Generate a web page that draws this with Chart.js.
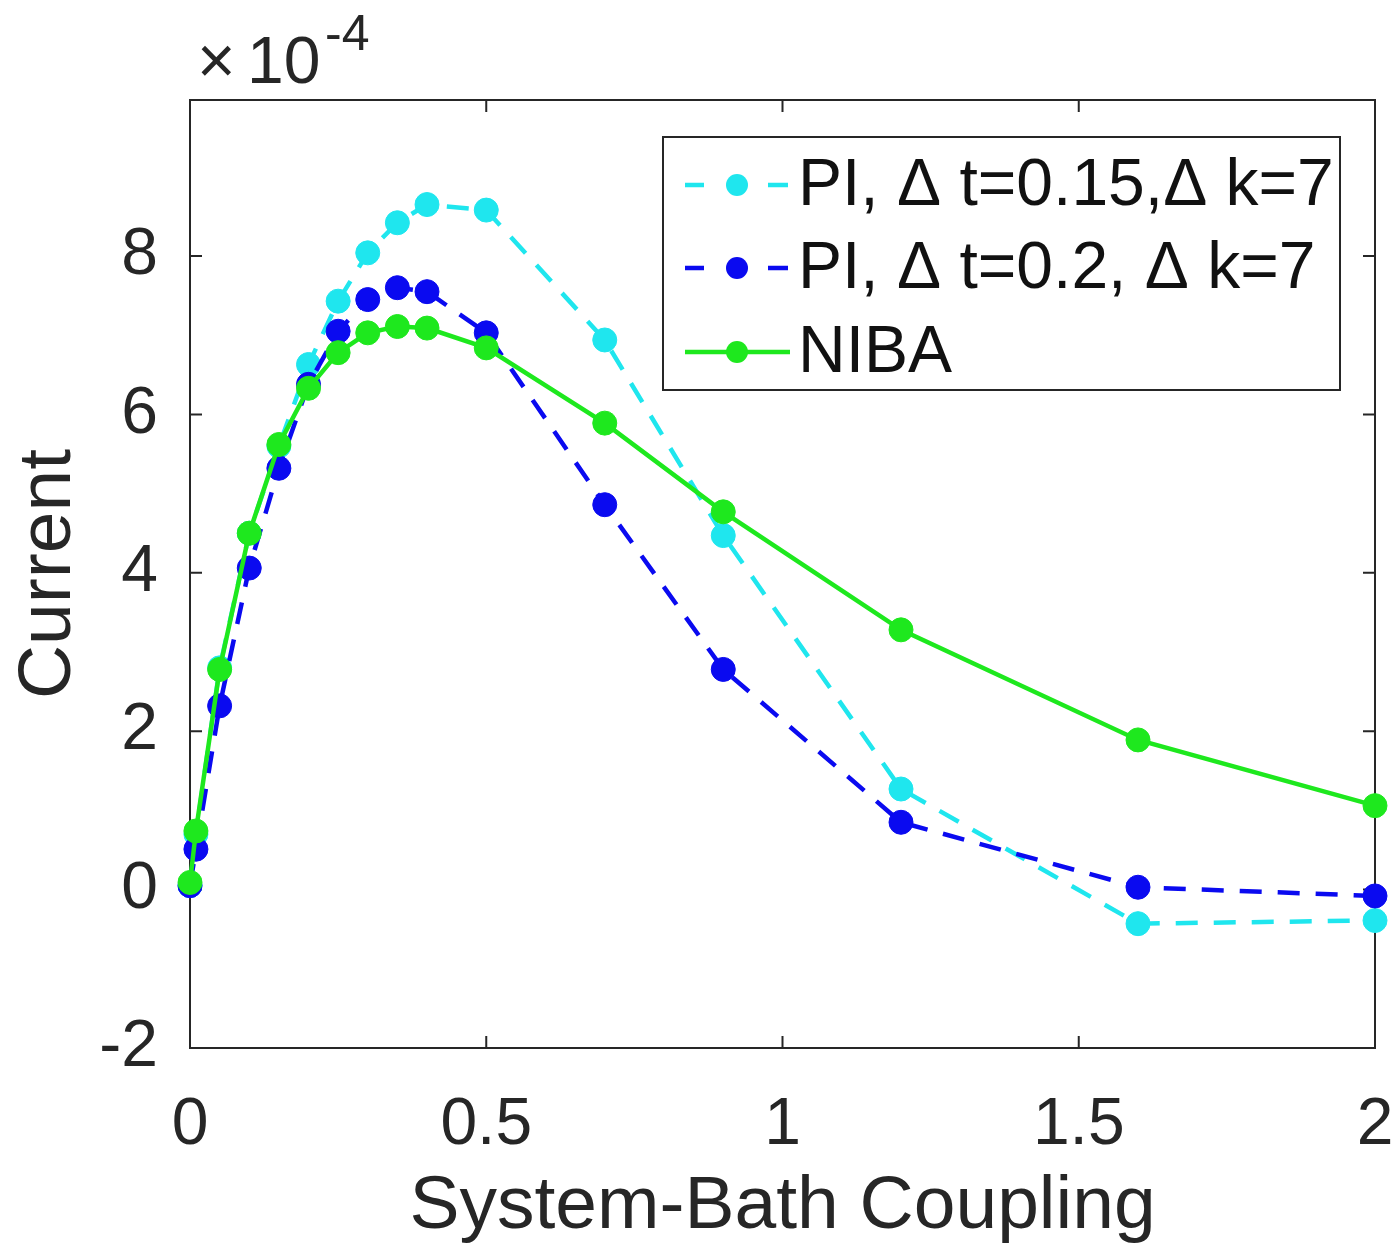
<!DOCTYPE html>
<html lang="en">
<head>
  <meta charset="UTF-8">
  <title>Current vs System-Bath Coupling</title>
  <script src="https://cdn.jsdelivr.net/npm/chart.js"></script>
  <style>
    html, body { margin: 0; padding: 0; background: #fff; }
    #wrap { width: 1392px; height: 1254px; }
  </style>
</head>
<body>
<div id="wrap"><canvas id="grafica" width="1392" height="1254"></canvas></div>

<script>
// coupling values (x), shared by the three curves
const coupling = [0, 0.01, 0.05, 0.1, 0.15, 0.2, 0.25, 0.3, 0.35, 0.4, 0.5, 0.7, 0.9, 1.2, 1.6, 2];
// current, in units of 1e-4
const piDt015 = [0.05, 0.70, 2.80, 4.50, 5.60, 6.63, 7.43, 8.04, 8.42, 8.65, 8.58, 6.94, 4.47, 1.27, -0.43, -0.39];
const piDt02  = [0.05, 0.51, 2.32, 4.06, 5.32, 6.38, 7.05, 7.45, 7.60, 7.55, 7.03, 4.86, 2.78, 0.85, 0.03, -0.08];
const niba    = [0.09, 0.74, 2.78, 4.50, 5.62, 6.33, 6.78, 7.03, 7.11, 7.09, 6.84, 5.89, 4.77, 3.28, 1.89, 1.06];

const seriesLabels = ["PI, \u0394 t=0.15,\u0394 k=7", "PI, \u0394 t=0.2, \u0394 k=7", "NIBA"];
const xTicks = [0, 0.5, 1, 1.5, 2];
const yTicks = [-2, 0, 2, 4, 6, 8];

const FONT = "'Liberation Sans', Arial, sans-serif";
const TXT = "#262626";
const colores = ["#1fe6ee", "#0a0af0", "#1ee81e"];
const guiones = [[22, 16], [22, 16], []];

const pts = ys => ys.map((y, i) => ({x: coupling[i], y: y}));

const serie = (i, ys, orden) => ({
  label: seriesLabels[i],
  data: pts(ys),
  borderColor: colores[i],
  backgroundColor: colores[i],
  borderWidth: 4.5,
  borderDash: guiones[i],
  pointRadius: 12,
  pointBorderWidth: 1,
  pointHoverRadius: 12,
  tension: 0,
  clip: false,
  order: orden
});

// axes box + inward ticks (matlab style), drawn under the lines
const cajaEjes = {
  id: "cajaEjes",
  beforeDatasetsDraw(chart) {
    const {ctx, chartArea: a, scales: {x, y}} = chart;
    const L = 12;
    ctx.save();
    ctx.strokeStyle = TXT;
    ctx.lineWidth = 2;
    ctx.beginPath();
    yTicks.forEach(v => {
      const py = y.getPixelForValue(v);
      ctx.moveTo(a.left, py); ctx.lineTo(a.left + L, py);
      ctx.moveTo(a.right, py); ctx.lineTo(a.right - L, py);
    });
    xTicks.forEach(v => {
      const px = x.getPixelForValue(v);
      ctx.moveTo(px, a.bottom); ctx.lineTo(px, a.bottom - L);
      ctx.moveTo(px, a.top); ctx.lineTo(px, a.top + L);
    });
    ctx.stroke();
    ctx.strokeRect(a.left, a.top, a.right - a.left, a.bottom - a.top);
    ctx.restore();
  },
  afterDraw(chart) {
    const ctx = chart.ctx;
    ctx.save();
    // exponent
    ctx.fillStyle = TXT;
    ctx.textBaseline = "alphabetic";
    ctx.font = "66px " + FONT;
    ctx.fillText("\u00d7", 197, 83);
    ctx.fillText("10", 247, 83);
    ctx.font = "50px " + FONT;
    ctx.fillText("-4", 325, 50);

    // legend
    const bx = 663, by = 137, bw = 677, bh = 253;
    ctx.fillStyle = "#fff";
    ctx.fillRect(bx, by, bw, bh);
    ctx.strokeStyle = TXT;
    ctx.lineWidth = 2;
    ctx.strokeRect(bx, by, bw, bh);
    const filas = [185, 268, 352];
    filas.forEach((fy, i) => {
      ctx.strokeStyle = colores[i];
      ctx.fillStyle = colores[i];
      ctx.lineWidth = 4.5;
      ctx.beginPath();
      if (guiones[i].length) {
        ctx.moveTo(685, fy); ctx.lineTo(704, fy);
        ctx.moveTo(768, fy); ctx.lineTo(788, fy);
      } else {
        ctx.moveTo(685, fy); ctx.lineTo(790, fy);
      }
      ctx.stroke();
      ctx.beginPath();
      ctx.arc(737, fy, 11, 0, Math.PI * 2);
      ctx.fill();
      ctx.fillStyle = "#111";
      ctx.font = "66px " + FONT;
      ctx.textBaseline = "middle";
      ctx.fillText(seriesLabels[i], 798, fy + 2);
    });
    ctx.restore();
  }
};

new Chart(document.getElementById("grafica"), {
  type: "line",
  data: {
    datasets: [serie(0, piDt015, 3), serie(1, piDt02, 2), serie(2, niba, 1)]
  },
  options: {
    responsive: false,
    animation: false,
    events: [],
    layout: { padding: { top: 100, right: 17, left: 0, bottom: 0 } },
    plugins: { legend: { display: false }, tooltip: { enabled: false } },
    scales: {
      x: {
        type: "linear",
        min: 0, max: 2,
        afterBuildTicks: s => { s.ticks = xTicks.map(v => ({value: v})); },
        afterFit: s => { s.height = 206; s.paddingLeft = 0; s.paddingRight = 0; },
        grid: { display: false },
        border: { display: false },
        ticks: {
          color: TXT, padding: 30,
          font: { family: FONT, size: 66 },
          callback: v => String(v)
        },
        title: {
          display: true, text: "System-Bath Coupling", color: TXT,
          font: { family: FONT, size: 75 },
          padding: { top: 0, bottom: 2 }
        }
      },
      y: {
        type: "linear",
        min: -2, max: 9.97,
        afterBuildTicks: s => { s.ticks = yTicks.map(v => ({value: v})); },
        afterFit: s => { s.width = 190; s.paddingTop = 0; s.paddingBottom = 0; },
        grid: { display: false },
        border: { display: false },
        ticks: {
          color: TXT, padding: 24,
          font: { family: FONT, size: 66 },
          callback: v => String(v)
        },
        title: {
          display: true, text: "Current", color: TXT,
          font: { family: FONT, size: 75 },
          padding: { top: 4, bottom: 0 }
        }
      }
    }
  },
  plugins: [cajaEjes]
});
</script>
</body>
</html>
